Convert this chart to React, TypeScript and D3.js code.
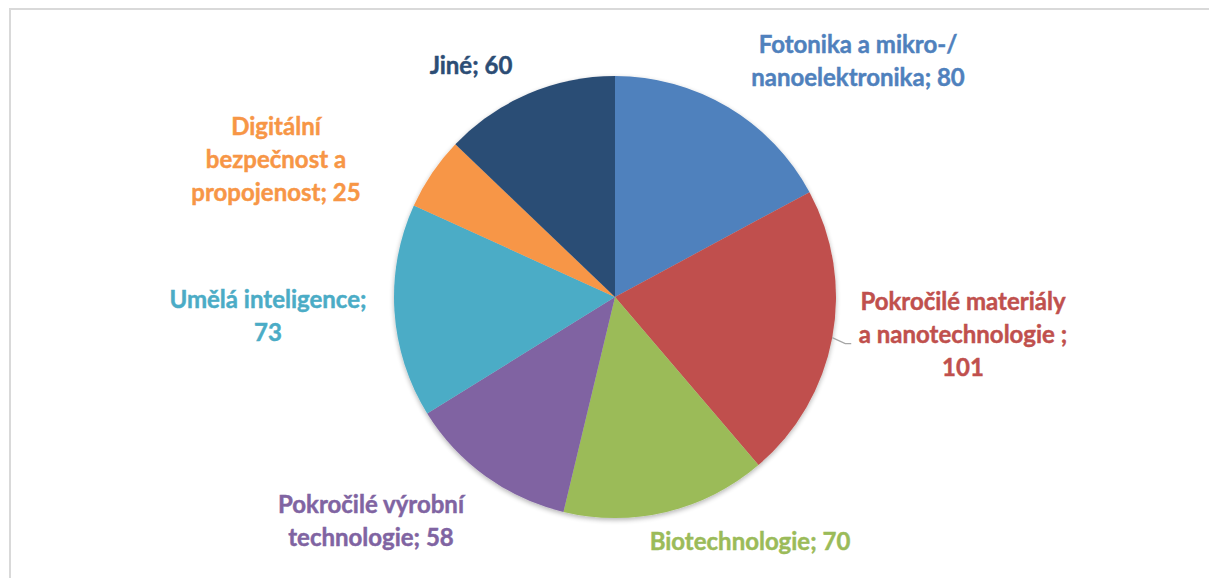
import * as d3 from 'd3'
import { useEffect, useRef } from 'react'

const categories = [
  'Fotonika a mikro-/ nanoelektronika',
  'Pokročilé materiály a nanotechnologie ',
  'Biotechnologie',
  'Pokročilé výrobní technologie',
  'Umělá inteligence',
  'Digitální bezpečnost a propojenost',
  'Jiné',
]
const values = [80, 101, 70, 58, 73, 25, 60]
const colors = ['#4f81bd', '#c0504d', '#9bbb59', '#8064a2', '#4bacc6', '#f79646', '#2c4d75']

// how each label is broken into lines (as in the original)
const labelLines = [
  ['Fotonika a mikro-/', 'nanoelektronika; 80'],
  ['Pokročilé materiály', 'a nanotechnologie ;', '101'],
  ['Biotechnologie; 70'],
  ['Pokročilé výrobní', 'technologie; 58'],
  ['Umělá inteligence;', '73'],
  ['Digitální', 'bezpečnost a', 'propojenost; 25'],
  ['Jiné; 60'],
]

const W = 1209
const H = 578

const App = () => {
  const ref = useRef<SVGSVGElement>(null)

  useEffect(() => {
    const svg = d3.select(ref.current)
    svg.selectAll('*').remove()

    // chart frame (right and bottom edges fall outside the picture)
    svg
      .append('rect')
      .attr('x', 10)
      .attr('y', 9)
      .attr('width', W + 20)
      .attr('height', H + 20)
      .attr('fill', '#fff')
      .attr('stroke', '#d9d9d9')
      .attr('stroke-width', 2)

    const cx = 615,
      cy = 297,
      r = 221

    const pie = d3
      .pie<number>()
      .sort(null)
      .value((d) => d)
    const arcs = pie(values)
    const arc = d3.arc<d3.PieArcDatum<number>>().innerRadius(0).outerRadius(r)

    const defs = svg.append('defs')
    const f = defs
      .append('filter')
      .attr('id', 'sh')
      .attr('x', '-10%')
      .attr('y', '-10%')
      .attr('width', '120%')
      .attr('height', '120%')
    f.append('feGaussianBlur').attr('in', 'SourceAlpha').attr('stdDeviation', 2.5)
    f.append('feOffset').attr('dx', 0).attr('dy', 2).attr('result', 'b')
    f.append('feComponentTransfer')
      .append('feFuncA')
      .attr('type', 'linear')
      .attr('slope', 0.3)
    const m = f.append('feMerge')
    m.append('feMergeNode')
    m.append('feMergeNode').attr('in', 'SourceGraphic')

    const g = svg
      .append('g')
      .attr('transform', 'translate(' + cx + ',' + cy + ')')
      .attr('filter', 'url(#sh)')

    g.selectAll('path')
      .data(arcs)
      .enter()
      .append('path')
      .attr('d', arc)
      .attr('fill', (d, i) => colors[i])

    // label placement: centre x and first baseline, per slice
    const labelAt = [
      [858, 53],
      [963, 310],
      [750, 550],
      [371, 513],
      [268, 308],
      [276, 135],
      [471, 74],
    ]
    const lineH = 33

    arcs.forEach((a, i) => {
      const [x, y0] = labelAt[i]
      const t = svg
        .append('text')
        .attr('text-anchor', 'middle')
        .attr('fill', colors[i])
        .attr('stroke', colors[i])
        .attr('stroke-width', 0.45)
        .style('font-family', 'Lato, "Open Sans", sans-serif')
        .style('font-weight', 700)
        .style('font-size', '24px')
        .attr('aria-label', categories[i])
      labelLines[i].forEach((ln, j) => {
        t.append('tspan')
          .attr('x', x)
          .attr('y', y0 + j * lineH)
          .text(ln)
      })
    })

    // leader line for the red slice label, from the rim at its mid-angle
    const red = arcs[1]
    const ang = (red.startAngle + red.endAngle) / 2
    const px = cx + Math.sin(ang) * r
    const py = cy - Math.cos(ang) * r
    svg
      .append('path')
      .attr('d', 'M' + px + ',' + py + 'L' + (px + 13) + ',' + (py + 6) + 'l6,0')
      .attr('fill', 'none')
      .attr('stroke', '#a6a6a6')
      .attr('stroke-width', 1.2)
  }, [])

  return (
    <svg
      ref={ref}
      width={W}
      height={H}
      style={{ position: 'absolute', left: 0, top: 0, background: '#fff' }}
    />
  )
}

export default App
